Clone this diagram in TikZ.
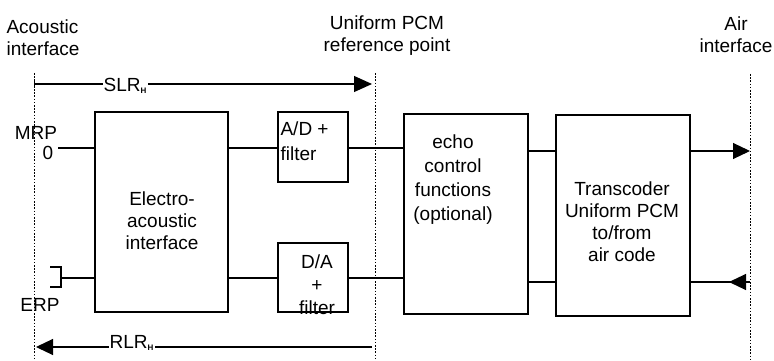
\documentclass[tikz,border=0pt]{standalone}
\usepackage{fontspec}
\setmainfont{Liberation Sans}
\usetikzlibrary{arrows.meta}
\begin{document}
\begin{tikzpicture}[x=1pt, y=-1pt, line width=1.1pt,
    every node/.style={font=\fontsize{19}{22}\selectfont, inner sep=0pt},
    blk/.style 2 args={draw, minimum width=#1, minimum height=#2},
    refline/.style={line width=0.9pt, dash pattern=on 1.6pt off 1.6pt},
    tip/.style={-{Triangle[length=17pt,width=16pt]}}]
        \useasboundingbox (0,0) rectangle (774,361);
        % reference planes
        \coordinate (acT) at (34,73);  \coordinate (acB) at (34,361);
        \coordinate (pcT) at (375,73); \coordinate (pcB) at (375,359);
        \coordinate (aiT) at (750,74); \coordinate (aiB) at (750,360);
        \draw[refline] (acT) -- (acB);
        \draw[refline] (pcT) -- (pcB);
        \draw[refline] (aiT) -- (aiB);
        \node[anchor=west, align=left] (acl) at (6,38) {Acoustic\\interface};
        \node[align=center] (pcl) at (387,36) {Uniform PCM\\reference point};
        \node[align=center] (ail) at (736,35) {Air\\interface};
        % blocks
        \node[blk={133pt}{200pt}] (elec) at (161.5,212) {};
        \node[align=center] (elect) at (162,221) {Electro-\\acoustic\\interface};
        \node[blk={70pt}{70pt}] (ad) at (313,147) {};
        \node[anchor=west, align=left, font=\fontsize{19}{25}\selectfont] (adt) at (280,141) {A/D +\\filter};
        \node[blk={70pt}{69pt}] (da) at (313,277.5) {};
        \node[align=center, font=\fontsize{19}{23}\selectfont] (dat) at (317,285) {D/A\\+\\filter};
        \node[blk={124pt}{200pt}] (echo) at (466,214) {};
        \node[align=center, font=\fontsize{19}{24}\selectfont] (echot) at (453,180) {echo\\control\\functions\\(optional)};
        \node[blk={134pt}{201pt}] (tc) at (623,215.5) {};
        \node[align=center] (tct) at (622,222) {Transcoder\\Uniform PCM\\to/from\\air code};
        % mouth and ear
        \node (mrp) at (36,133) {MRP};
        \node (zero) at (48,153) {0};
        \coordinate (mrpA) at (58,148);
        \draw (mrpA) -- (mrpA -| elec.west);
        \node (erp) at (40,305) {ERP};
        \coordinate (erpA) at (61,278);
        \draw (50,267) -- (61,267) -- (61,287) -- (50,287);
        \draw (erpA) -- (erpA -| elec.west);
        % signal rows
        \coordinate (rowA) at (0,148);
        \coordinate (rowB) at (0,278);
        \coordinate (rowC) at (0,151);
        \coordinate (rowD) at (0,282);
        \draw (elec.east |- rowA) -- (ad.west |- rowA);
        \draw (ad.east |- rowA) -- (echo.west |- rowA);
        \draw (elec.east |- rowB) -- (da.west |- rowB);
        \draw (da.east |- rowB) -- (echo.west |- rowB);
        \draw (echo.east |- rowC) -- (tc.west |- rowC);
        \draw (echo.east |- rowD) -- (tc.west |- rowD);
        \draw[tip] (tc.east |- rowC) -- (aiT |- rowC);
        \coordinate (airD) at (aiT |- rowD);
        \coordinate (airDtip) at (729,282);
        \draw (tc.east |- rowD) -- (airD);
        \draw[tip] (airD) -- (airDtip);
        % loudness ratings
        \coordinate (slrA) at (34,84);  \coordinate (slrB) at (372,84);
        \draw[{Bar[width=8pt]}-{Triangle[length=18pt,width=16pt]}] (slrA) -- (slrB)
          node[pos=0.27, fill=white, inner xsep=1pt, yshift=-2pt] (slr) {SLR\textsubscript{\fontsize{8}{8}\selectfont\bfseries H}};
        \coordinate (rlrA) at (372,347); \coordinate (rlrB) at (36,347);
        \draw[tip] (rlrA) -- (rlrB)
          node[pos=0.715, fill=white, inner xsep=1pt, yshift=4pt] (rlr) {RLR\textsubscript{\fontsize{8}{8}\selectfont\bfseries H}};
      \end{tikzpicture}
\end{document}
